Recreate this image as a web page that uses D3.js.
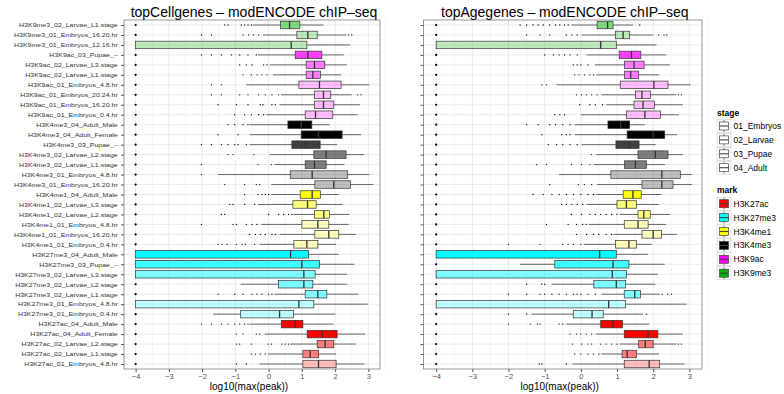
<!DOCTYPE html>
<html lang="en">
<head>
<meta charset="UTF-8">
<title>topCellgenes / topAgegenes – modENCODE chIP–seq</title>
<script src="https://cdn.jsdelivr.net/npm/d3@7"></script>
<style>
* { margin: 0; padding: 0; }
body { background: #fff; width: 784px; height: 394px; overflow: hidden; }
svg { display: block; font-family: "Liberation Sans", Arial, Helvetica, sans-serif; }
</style>
</head>
<body>
<div id="chart"></div>
<script>
// rows, top to bottom as drawn
var rowLabels = [
	"H3K9me3_02_Larvae_L1.stage", "H3K9me3_01_Embryos_16.20.hr", "H3K9me3_01_Embryos_12.16.hr",
	"H3K9ac_03_Pupae_–", "H3K9ac_02_Larvae_L3.stage", "H3K9ac_02_Larvae_L1.stage",
	"H3K9ac_01_Embryos_4.8.hr", "H3K9ac_01_Embryos_20.24.hr", "H3K9ac_01_Embryos_16.20.hr",
	"H3K9ac_01_Embryos_0.4.hr", "H3K4me3_04_Adult_Male", "H3K4me3_04_Adult_Female",
	"H3K4me3_03_Pupae_–", "H3K4me3_02_Larvae_L2.stage", "H3K4me3_02_Larvae_L1.stage",
	"H3K4me3_01_Embryos_4.8.hr", "H3K4me3_01_Embryos_16.20.hr", "H3K4me1_04_Adult_Male",
	"H3K4me1_02_Larvae_L3.stage", "H3K4me1_02_Larvae_L2.stage", "H3K4me1_01_Embryos_4.8.hr",
	"H3K4me1_01_Embryos_16.20.hr", "H3K4me1_01_Embryos_0.4.hr", "H3K27me3_04_Adult_Male",
	"H3K27me3_03_Pupae_–", "H3K27me3_02_Larvae_L3.stage", "H3K27me3_02_Larvae_L2.stage",
	"H3K27me3_02_Larvae_L1.stage", "H3K27me3_01_Embryos_4.8.hr", "H3K27me3_01_Embryos_0.4.hr",
	"H3K27ac_04_Adult_Male", "H3K27ac_04_Adult_Female", "H3K27ac_02_Larvae_L2.stage",
	"H3K27ac_02_Larvae_L1.stage", "H3K27ac_01_Embryos_4.8.hr"
];

// [lower whisker, q1, median, q3, upper whisker] in log10(max(peak))
var cellStats = [
	[-0.47, 0.36, 0.63, 0.94, 1.65], [-0.17, 0.85, 1.18, 1.46, 2.33], [-4, -4, 0.68, 1.15, 2.45],
	[-0.32, 0.8, 1.18, 1.6, 2.26], [0.03, 1.13, 1.38, 1.69, 2.35], [0.13, 1.13, 1.33, 1.56, 2.18],
	[-0.67, 0.91, 1.53, 2.18, 3.03], [0.38, 1.38, 1.65, 1.87, 2.5], [0.33, 1.38, 1.65, 1.96, 2.75],
	[-0.07, 1.1, 1.41, 1.93, 2.68], [-0.57, 0.58, 0.98, 1.3, 1.83], [-0.57, 0.98, 1.5, 2.21, 2.78],
	[-0.57, 0.7, 1.11, 1.55, 2.06], [0.03, 1.36, 1.73, 2.33, 2.88], [0.18, 1.1, 1.38, 1.73, 2.28],
	[-1.52, 0.65, 1.31, 2.38, 3.03], [0.08, 1.39, 1.96, 2.46, 3.15], [0.08, 0.95, 1.31, 1.56, 2.11],
	[-0.32, 0.73, 1.17, 1.43, 2.23], [0.75, 1.38, 1.66, 1.83, 2.43], [-0.22, 1.0, 1.48, 1.81, 2.41],
	[0.33, 1.39, 1.81, 2.11, 2.63], [-0.27, 0.76, 1.15, 1.48, 2.03], [-4, -4, 0.66, 1.2, 2.11],
	[-4, -4, 1.0, 1.53, 2.58], [-4, -4, 1.06, 1.4, 2.36], [-0.84, 0.3, 1.06, 1.33, 2.36],
	[0.18, 1.1, 1.48, 1.75, 2.7], [-4, -4, 0.91, 1.36, 2.98], [-1.67, -0.84, 0.33, 0.75, 2.01],
	[-0.57, 0.38, 0.8, 1.03, 1.95], [-0.12, 1.16, 1.61, 2.06, 2.9], [0.71, 1.46, 1.7, 1.96, 2.63],
	[-0.02, 1.03, 1.25, 1.5, 2.03], [-0.27, 1.03, 1.5, 2.03, 2.88]
];

var cellOutliers = [
	[-4, -1.32, -1.22, -0.82, -0.72, -0.62, -0.52],
	[-4, -2.02, -1.72, -0.77, -0.6, -0.45, -0.3, 2.4, 2.5],
	[],
	[-4, -2.02, -1.72, -1.42, -1.12, -0.87, -0.62, -0.37],
	[-4, -0.87, -0.67, -0.5, -0.15, -0.05],
	[-4, -0.77, -0.52, -0.35, -0.2, -0.05],
	[-4, -1.72, -1.42],
	[-4, -1.72, -1.42, -0.87, -0.62, -0.3, -0.1, 0.1, 0.3, 2.68, 2.78],
	[-4, -1.52, -0.97, -0.62, -0.25, -0.17, 0.1, 0.2],
	[-4, -1.02, -0.72, -0.52, -0.3, -0.15],
	[-4, -1.22, -1.02, -0.77, -0.62],
	[-4, -1.52, -0.92],
	[-4, -2.02, -1.72, -1.42, -1.22, -1.02, -0.92, -0.67],
	[-4, -1.22, -1.07, -0.44],
	[-4, -2.02, -0.32, 0.08],
	[-4, -2.02],
	[-4, -1.32, -0.72, -0.37, -0.27],
	[-4, -0.72, -0.32, -0.2, -0.1, 0.0],
	[-4, -1.17, -1.07, -0.72, -0.42],
	[-4, -1.42, -1.32, 0.0, 0.3, 0.45, 0.6, 0.7],
	[-4, -2.02, -1.07, -0.97, -0.67, -0.5, -0.35],
	[-4, -0.57, -0.4, -0.25, -0.1, 0.1, 0.2],
	[-4, -1.52, -1.4, -1.25, -0.97, -0.8, -0.7, -0.42],
	[], [], [],
	[-4],
	[-4, -1.52, -1.02, -0.77, -0.5, -0.35, -0.2, 0.0, 0.1],
	[],
	[-4],
	[-4, -2.02, -1.72, -1.42, -1.22, -1.02, -0.87, -0.72, -0.62],
	[-4, -0.97, -0.77, -0.37, -0.27],
	[-4, -0.97, -0.87, -0.52, -0.02, 0.08, 0.4, 0.5, 0.6, 0.68],
	[-4, -0.52, -0.4, -0.25, -0.1],
	[-4, -0.97, -0.67]
];

var ageStats = [
	[-0.26, 0.45, 0.74, 0.89, 1.44], [0.02, 0.96, 1.17, 1.35, 2.0], [-4, -4, 0.55, 0.98, 2.09],
	[0.16, 1.06, 1.4, 1.66, 2.36], [0.39, 1.21, 1.47, 1.75, 2.46], [0.43, 1.21, 1.38, 1.6, 2.16],
	[-0.67, 1.09, 2.02, 2.41, 3.03], [0.57, 1.51, 1.69, 1.93, 2.64], [0.7, 1.47, 1.72, 2.04, 2.82],
	[0.0, 1.26, 1.77, 2.2, 2.71], [-0.17, 0.75, 1.1, 1.35, 1.77], [-0.17, 1.28, 2.0, 2.32, 2.66],
	[0.02, 0.97, 1.33, 1.61, 2.07], [0.43, 1.58, 2.06, 2.41, 2.82], [0.36, 1.21, 1.51, 1.81, 2.33],
	[-0.6, 0.83, 2.24, 2.75, 3.07], [0.45, 1.69, 2.24, 2.55, 3.07], [0.43, 1.17, 1.44, 1.67, 2.23],
	[0.16, 1.0, 1.26, 1.54, 2.16], [1.08, 1.58, 1.74, 1.92, 2.47], [0.22, 1.2, 1.58, 1.86, 2.36],
	[0.91, 1.69, 2.0, 2.23, 2.66], [0.09, 0.96, 1.33, 1.54, 1.97], [-4, -4, 0.52, 0.98, 1.86],
	[-1.68, -0.72, 0.89, 1.33, 2.32], [-4, -4, 0.87, 1.26, 2.13], [-0.81, 0.36, 0.98, 1.24, 2.06],
	[0.57, 1.2, 1.49, 1.65, 2.18], [-4, -4, 0.77, 1.24, 2.92], [-1.36, -0.21, 0.31, 0.62, 1.72],
	[-0.4, 0.55, 0.89, 1.15, 1.89], [0.41, 1.2, 1.86, 2.13, 2.82], [1.08, 1.6, 1.78, 2.0, 2.64],
	[0.57, 1.14, 1.28, 1.54, 2.16], [-0.23, 1.2, 1.89, 2.18, 2.87]
];

var ageOutliers = [
	[-4, -1.68, -1.5, -1.32, -1.18, -1.04, -0.86, -0.7, -0.58, -0.45, -0.35, 1.63],
	[-4, -1.5, -1.13, -0.86, -0.4, -0.25, -0.1, 2.15, 2.3, 2.38],
	[],
	[-4, -1.0, -0.76, -0.6, -0.45, -0.3, -0.1],
	[-4, -0.21, -0.1, 0.0, 0.2],
	[-4, -0.17, -0.05, 0.1, 0.25, 0.35],
	[-4, -1.08, -0.95],
	[-4, -0.12, 0.02, 0.15, 0.3, 0.45, 2.7, 2.78],
	[-4, -0.03, 0.25, 0.4, 0.6],
	[-4, -0.72, -0.58, -0.45],
	[-4, -1.5, -1.18, -0.86, -0.7, -0.5, -0.3],
	[-4, -1.08, -0.53, -0.4, -0.3],
	[-4, -0.9, -0.67, -0.5, -0.3, -0.1],
	[-4, 0.29],
	[-4, -1.22, -0.95, -0.26, 0.02, 0.25],
	[-4],
	[-4, -0.86, -0.07, 0.1, 0.3],
	[-4, -1.32, -1.04, -0.8, -0.6, -0.4, -0.2, 0.0, 0.2, 0.35],
	[-4, -0.53, -0.4, -0.25, -0.1, 0.05],
	[-4, -0.26, 0.02, 0.25, 0.4, 0.55, 0.7, 0.85, 1.0],
	[-4, -0.95, -0.35, -0.12, 0.05, 0.15],
	[-4, -0.12, 0.16, 0.35, 0.5, 0.7, 0.85],
	[-4, -2.0, -1.13, -0.5, -0.35, -0.2, 0.0],
	[],
	[-4],
	[],
	[-4, -1.5, -1.08, -1.0],
	[-4, -2.0, -1.5, -1.13, -1.0, -0.8, -0.6, -0.4, -0.2, -0.1, 0.0, 0.2, 0.4, 2.25, 2.4, 2.5],
	[],
	[-4, -2.0, -1.5, 1.82],
	[-4, -2.0, -1.4, -1.2, -1.13, -0.6, -0.5],
	[-4, -0.3, -0.12, 0.0, 0.15, 0.3],
	[-4, -0.23, 0.02, 0.2, 0.3, 0.55, 0.7, 0.85, 1.0, 2.7, 2.78],
	[-4, -0.17, 0.0, 0.2, 0.35, 0.5],
	[-4, -1.15, -1.08, -0.4]
];

var marks = ["H3K27ac", "H3K27me3", "H3K4me1", "H3K4me3", "H3K9ac", "H3K9me3"];
var markColors = ["#ff0000", "#00ffff", "#ffff00", "#000000", "#ff00ff", "#00b300"];
var stages = ["01_Embryos", "02_Larvae", "03_Pupae", "04_Adult"];
var stageAlpha = [0.25, 0.5, 0.75, 1];
var xTicks = [-4, -3, -2, -1, 0, 1, 2, 3];

(function() {
	var W = 784, H = 394;
	var SX = 1.25; // small tick text in the reference is drawn horizontally stretched
	var top = 20, bottom = 369;
	var boxH = 7.5;

	var svg = d3.select("#chart").append("svg").attr("width", W).attr("height", H);

	function label(parent, x, y, s, size, anchor, weight) {
		return parent.append("text")
			.attr("x", x).attr("y", y)
			.attr("text-anchor", anchor || "start")
			.attr("font-size", size)
			.attr("font-weight", weight || "normal")
			.attr("fill", "#000")
			.text(s);
	}

	function markOf(r) { return r.split("_")[0]; }
	function stageOf(r) { var p = r.split("_"); return p[1] + "_" + p[2]; }
	function fmt(d) { return d < 0 ? "\u2212" + Math.abs(d) : String(d); }

	function drawPanel(left, right, title, stats, outliers, showLabels) {
		var x = d3.scaleLinear().domain([-4.35, 3.35]).range([left, right]);
		var y = d3.scalePoint().domain(rowLabels).range([25, 364]);
		var g = svg.append("g");

		g.append("rect").attr("x", left).attr("y", top)
			.attr("width", right - left).attr("height", bottom - top).attr("fill", "#fff");

		// minor + major grid
		g.append("g").selectAll("line").data(xTicks.map(function(t) { return t + 0.5; })).join("line")
			.attr("x1", x).attr("x2", x).attr("y1", top).attr("y2", bottom)
			.attr("stroke", "#f3f3f3").attr("stroke-width", 0.8);
		g.append("g").selectAll("line").data(xTicks).join("line")
			.attr("x1", x).attr("x2", x).attr("y1", top).attr("y2", bottom)
			.attr("stroke", "#e6e6e6").attr("stroke-width", 0.8);
		g.append("g").selectAll("line").data(rowLabels).join("line")
			.attr("x1", left).attr("x2", right).attr("y1", y).attr("y2", y)
			.attr("stroke", "#e6e6e6").attr("stroke-width", 0.8);

		var rows = g.append("g").selectAll("g").data(rowLabels).join("g")
			.attr("transform", function(d) { return "translate(0," + y(d) + ")"; });

		rows.append("line")
			.attr("x1", function(d, i) { return x(stats[i][0]); })
			.attr("x2", function(d, i) { return x(stats[i][1]); })
			.attr("stroke", "#444").attr("stroke-width", 0.8);
		rows.append("line")
			.attr("x1", function(d, i) { return x(stats[i][3]); })
			.attr("x2", function(d, i) { return x(stats[i][4]); })
			.attr("stroke", "#444").attr("stroke-width", 0.8);

		rows.each(function(d, i) {
			d3.select(this).selectAll("circle").data(outliers[i]).join("circle")
				.attr("cx", x).attr("cy", 0)
				.attr("r", function(v) { return v === -4 ? 1.1 : 0.65; })
				.attr("fill", "#000");
		});

		rows.append("rect")
			.attr("x", function(d, i) { return x(stats[i][1]); })
			.attr("width", function(d, i) { return x(stats[i][3]) - x(stats[i][1]); })
			.attr("y", -boxH / 2).attr("height", boxH)
			.attr("fill", function(d) { return markColors[marks.indexOf(markOf(d))]; })
			.attr("fill-opacity", function(d) { return stageAlpha[stages.indexOf(stageOf(d))]; })
			.attr("stroke", "#333").attr("stroke-width", 0.7);
		rows.append("line")
			.attr("x1", function(d, i) { return x(stats[i][2]); })
			.attr("x2", function(d, i) { return x(stats[i][2]); })
			.attr("y1", -boxH / 2).attr("y2", boxH / 2)
			.attr("stroke", "#333").attr("stroke-width", 1.3);

		g.append("rect").attr("x", left).attr("y", top)
			.attr("width", right - left).attr("height", bottom - top)
			.attr("fill", "none").attr("stroke", "#7f7f7f").attr("stroke-width", 0.8);

		var xa = g.append("g").attr("transform", "translate(0," + bottom + ")")
			.call(d3.axisBottom(x).tickValues(xTicks).tickSize(3).tickPadding(2).tickFormat(fmt));
		xa.select(".domain").remove();
		xa.selectAll("line").attr("stroke", "#555");
		xa.selectAll("text")
			.attr("font-size", 7.5).attr("font-family", null).attr("fill", "#4d4d4d");

		var ya = g.append("g").attr("transform", "translate(" + left + ",0)")
			.call(d3.axisLeft(y).tickSize(3).tickPadding(2).tickFormat(showLabels ? null : ""));
		ya.select(".domain").remove();
		ya.selectAll("line").attr("stroke", "#555");
		ya.selectAll("text").attr("transform", "scale(" + SX + ",1)")
			.attr("font-size", 5.6).attr("font-family", null).attr("fill", "#333");

		label(svg, (left + right) / 2 + 2, 16.5, title, 14, "middle");
		label(svg, (left + right) / 2 - 3, 390, "log10(max(peak))", 10, "middle");
	}

	drawPanel(124, 380, "topCellgenes – modENCODE chIP–seq", cellStats, cellOutliers, true);
	drawPanel(423.5, 702, "topAgegenes – modENCODE chIP–seq", ageStats, ageOutliers, false);

	// legends
	var lx = 717, step = 13.9;
	function keyGlyph(cy, fill) {
		var k = svg.append("g").attr("transform", "translate(" + lx + "," + cy + ")");
		k.append("rect").attr("x", 0).attr("y", -6.5).attr("width", 14).attr("height", 13)
			.attr("fill", "#fff").attr("stroke", "#ccc").attr("stroke-width", 0.6);
		k.append("line").attr("x1", 7).attr("x2", 7).attr("y1", -6).attr("y2", 6)
			.attr("stroke", "#444").attr("stroke-width", 0.7);
		k.append("rect").attr("x", 2.5).attr("y", -4).attr("width", 9).attr("height", 8)
			.attr("fill", fill).attr("stroke", "#444").attr("stroke-width", 0.7);
		k.append("line").attr("x1", 2.5).attr("x2", 11.5).attr("y1", 0).attr("y2", 0)
			.attr("stroke", "#444").attr("stroke-width", 1.1);
	}

	label(svg, lx, 116, "stage", 8.5, "start", "bold");
	stages.forEach(function(s, i) {
		var cy = 126 + i * step;
		keyGlyph(cy, "#fff");
		label(svg, lx + 16.5, cy + 3, s, 8.5);
	});

	label(svg, lx, 193, "mark", 8.5, "start", "bold");
	marks.forEach(function(m, i) {
		var cy = 203.7 + i * step;
		keyGlyph(cy, markColors[i]);
		label(svg, lx + 16.5, cy + 3, m, 8.5);
	});
})();
</script>
</body>
</html>
